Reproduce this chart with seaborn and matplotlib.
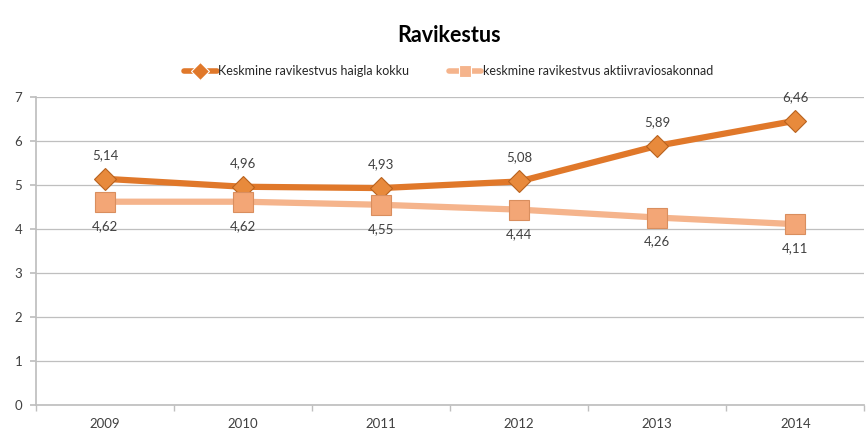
import matplotlib
matplotlib.use("Agg")
import matplotlib.pyplot as plt
import seaborn as sns
import pandas as pd
import numpy as np

years = ["2009", "2010", "2011", "2012", "2013", "2014"]
haigla_kokku = [5.14, 4.96, 4.93, 5.08, 5.89, 6.46]
aktiivravi = [4.62, 4.62, 4.55, 4.44, 4.26, 4.11]
series_names = ["Keskmine ravikestvus haigla kokku", "keskmine ravikestvus aktiivraviosakonnad"]

sns.set_theme(style="white")
plt.rcParams['font.family'] = ['Lato', 'DejaVu Sans']

df = pd.DataFrame({
    "year": years * 2,
    "value": haigla_kokku + aktiivravi,
    "series": [series_names[0]] * len(years) + [series_names[1]] * len(years),
})

fig = plt.figure(figsize=(8.66, 4.32), dpi=100)
ax = fig.add_axes([0.0416, 0.0625, 0.9565, 0.713])

colors = {series_names[0]: "#E0782A", series_names[1]: "#F5B48C"}
sns.lineplot(data=df, x="year", y="value", hue="series", style="series",
             markers={series_names[0]: "D", series_names[1]: "s"}, dashes=False,
             palette=colors, linewidth=4.5, markersize=12, ax=ax, sort=False,
             markeredgewidth=0.8)

line_main, line_act = ax.lines[0], ax.lines[1]
line_main.set_markerfacecolor("#E88A3C")
line_main.set_markeredgecolor("#B8621E")
line_main.set_markersize(11)
line_act.set_markerfacecolor("#F3A676")
line_act.set_markeredgecolor("#D98E5E")
line_act.set_markersize(14)

for i, (a, b) in enumerate(zip(haigla_kokku, aktiivravi)):
    ax.annotate(f"{a:.2f}".replace(".", ","), (i, a), xytext=(0, 13), textcoords="offset points",
                ha="center", va="bottom", fontsize=9.5, color="#404040")
    ax.annotate(f"{b:.2f}".replace(".", ","), (i, b), xytext=(0, -13), textcoords="offset points",
                ha="center", va="top", fontsize=9.5, color="#404040")

ax.set_xlim(-0.5, len(years) - 0.5)
ax.set_ylim(0, 7)
ax.set_yticks(range(0, 8))
ax.set_xticks(np.arange(-0.5, len(years), 1.0), minor=True)
ax.yaxis.grid(True, color="#BFBFBF", linewidth=0.9)
ax.set_axisbelow(True)
for s in ["top", "right"]:
    ax.spines[s].set_visible(False)
ax.spines["left"].set_color("#BFBFBF")
ax.spines["bottom"].set_color("#BFBFBF")
ax.tick_params(axis="y", length=4, color="#BFBFBF", labelsize=9.5, labelcolor="#404040", pad=6, left=True)
ax.tick_params(axis="x", which="major", length=0, labelsize=9.5, labelcolor="#404040", pad=9)
ax.tick_params(axis="x", which="minor", length=4, color="#BFBFBF", bottom=True)
ax.set_xlabel("")
ax.set_ylabel("")

handles, labels = ax.get_legend_handles_labels()
ax.legend(handles, labels, loc="center", bbox_to_anchor=(0.518, 0.835), bbox_transform=fig.transFigure,
          ncol=2, frameon=False, fontsize=9, handlelength=2.6, columnspacing=3.2, handletextpad=0.1)
for h in ax.get_legend().legend_handles:
    h.set_linewidth(4)
    h.set_markersize(9)

fig.text(0.518, 0.918, "Ravikestus", ha="center", va="center", fontsize=15.5, fontweight="bold", color="#000000")

fig.savefig("out.png", dpi=100)
